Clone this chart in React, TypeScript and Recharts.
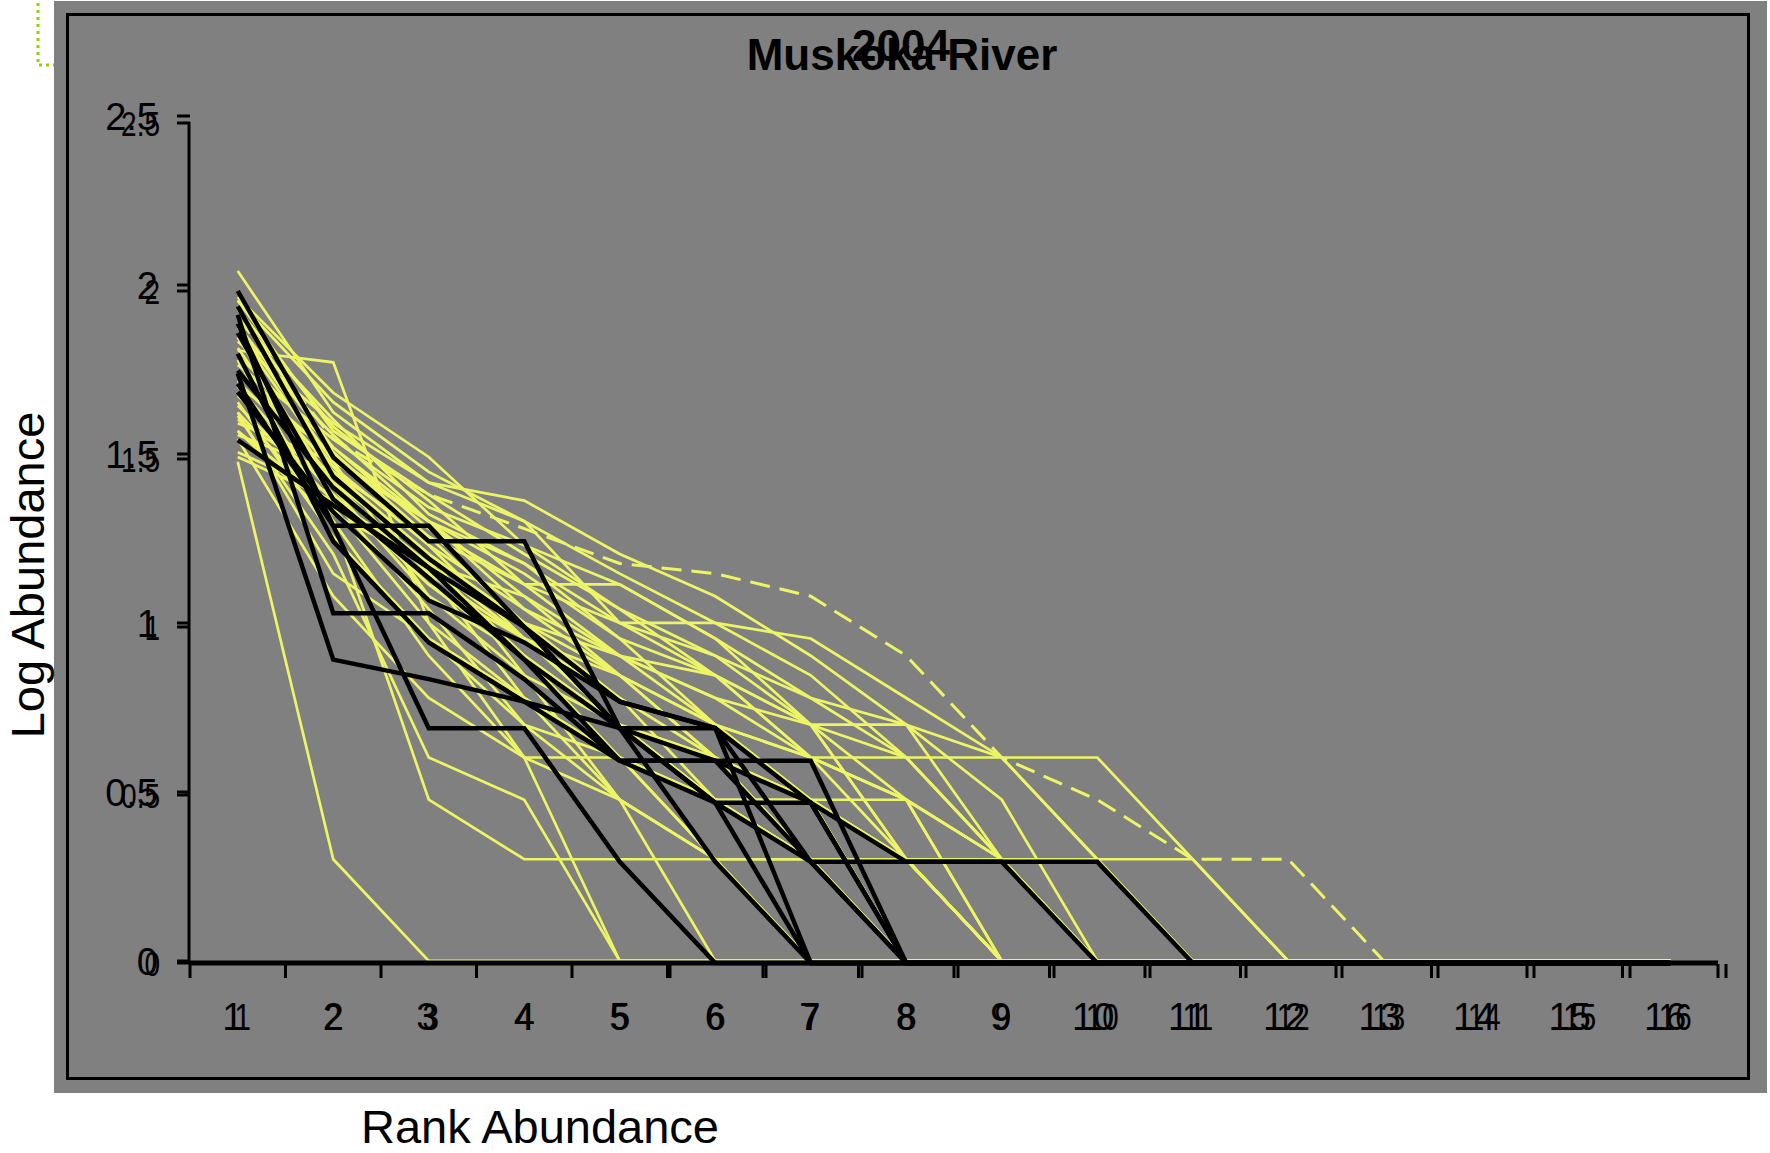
import React from 'react';
import { LineChart, Line, XAxis, YAxis } from 'recharts';

// ---------- data ----------
const ranks = [1, 2, 3, 4, 5, 6, 7, 8, 9, 10, 11, 12, 13, 14, 15, 16];
const rankTickLabels = ['1', '2', '3', '4', '5', '6', '7', '8', '9', '10', '11', '12', '13', '14', '15', '16'];
const rankBoundaries = [0.5, 1.5, 2.5, 3.5, 4.5, 5.5, 6.5, 7.5, 8.5, 9.5, 10.5, 11.5, 12.5, 13.5, 14.5, 15.5, 16.5];
const logTicks = [0, 0.5, 1, 1.5, 2, 2.5];
const logTickLabels = ['0', '0.5', '1', '1.5', '2', '2.5'];

const titleMain = 'Muskoka River';
const titleYear = '2004';
const xAxisTitle = 'Rank Abundance';
const yAxisTitle = 'Log Abundance';

// yellow sites (log abundance by rank)
const yellow01 = [2.041, 1.623, 1.415, 1.362, 1.204, 1.079, 0.903, 0.699, 0.602, 0.301, 0, 0, 0, 0, 0, 0];
const yellow02 = [1.845, 1.556, 1.301, 1.176, 1.0, 0.845, 0.602, 0.602, 0.602, 0.602, 0.301, 0, 0, 0, 0, 0];
const yellow04 = [1.778, 1.301, 0.477, 0.301, 0.301, 0.301, 0.301, 0.301, 0.301, 0.301, 0.301, 0, 0, 0, 0, 0];
const yellow05 = [1.477, 0.301, 0, 0, 0, 0, 0, 0, 0, 0, 0, 0, 0, 0, 0, 0];
const yellow06 = [1.875, 1.477, 1.301, 1.146, 0.954, 0.845, 0.699, 0.699, 0.477, 0, 0, 0, 0, 0, 0, 0];
const yellow07 = [1.813, 1.415, 1.204, 1.0, 0.845, 0.602, 0.477, 0.477, 0.301, 0, 0, 0, 0, 0, 0, 0];
const yellow08 = [1.954, 1.653, 1.447, 1.301, 1.0, 1.0, 0.954, 0.778, 0.602, 0.301, 0, 0, 0, 0, 0, 0];
const yellow09 = [1.806, 1.771, 1.0, 0.778, 0.602, 0.477, 0.301, 0, 0, 0, 0, 0, 0, 0, 0, 0];
const yellow10 = [1.929, 1.58, 1.362, 1.114, 1.114, 0.954, 0.778, 0.602, 0.301, 0, 0, 0, 0, 0, 0, 0];
const yellow11 = [1.699, 1.505, 1.255, 1.114, 0.903, 0.778, 0.602, 0.301, 0, 0, 0, 0, 0, 0, 0, 0];
const yellow12 = [1.74, 1.462, 1.23, 1.041, 0.845, 0.699, 0.477, 0, 0, 0, 0, 0, 0, 0, 0, 0];
const yellow13 = [1.602, 1.415, 1.146, 0.954, 0.778, 0.477, 0.301, 0, 0, 0, 0, 0, 0, 0, 0, 0];
const yellow14 = [1.845, 1.398, 1.079, 0.903, 0.699, 0.602, 0.301, 0, 0, 0, 0, 0, 0, 0, 0, 0];
const yellow15 = [1.653, 1.255, 0.954, 0.778, 0.477, 0.301, 0, 0, 0, 0, 0, 0, 0, 0, 0, 0];
const yellow16 = [1.778, 1.447, 1.204, 0.845, 0.477, 0, 0, 0, 0, 0, 0, 0, 0, 0, 0, 0];
const yellow17 = [1.568, 1.342, 1.0, 0.602, 0, 0, 0, 0, 0, 0, 0, 0, 0, 0, 0, 0];
const yellow18 = [1.613, 1.204, 0.602, 0.477, 0, 0, 0, 0, 0, 0, 0, 0, 0, 0, 0, 0];
const yellow19 = [1.699, 1.38, 1.114, 0.954, 0.699, 0.477, 0.301, 0.301, 0, 0, 0, 0, 0, 0, 0, 0];
const yellow20 = [1.903, 1.602, 1.322, 1.176, 0.954, 0.699, 0.602, 0.477, 0.301, 0, 0, 0, 0, 0, 0, 0];
const yellow21 = [1.74, 1.491, 1.301, 1.079, 0.903, 0.699, 0.477, 0.301, 0, 0, 0, 0, 0, 0, 0, 0];
const yellow22 = [1.623, 1.322, 1.176, 0.954, 0.845, 0.602, 0.301, 0, 0, 0, 0, 0, 0, 0, 0, 0];
const yellow23 = [1.556, 1.447, 1.255, 1.0, 0.778, 0.602, 0.477, 0.301, 0, 0, 0, 0, 0, 0, 0, 0];
const yellow24 = [1.881, 1.519, 1.301, 1.041, 0.903, 0.778, 0.699, 0.602, 0.301, 0, 0, 0, 0, 0, 0, 0];
const yellow25 = [1.954, 1.568, 1.38, 1.204, 1.041, 0.845, 0.699, 0.477, 0, 0, 0, 0, 0, 0, 0, 0];
const yellow26 = [1.672, 1.398, 1.176, 0.903, 0.602, 0.477, 0.477, 0, 0, 0, 0, 0, 0, 0, 0, 0];
const yellow27 = [1.763, 1.544, 1.342, 1.23, 1.041, 0.903, 0.699, 0.301, 0, 0, 0, 0, 0, 0, 0, 0];
const yellow28 = [1.591, 1.477, 1.079, 0.845, 0.699, 0.477, 0.301, 0, 0, 0, 0, 0, 0, 0, 0, 0];
const yellow29 = [1.857, 1.462, 1.146, 0.778, 0.602, 0.301, 0, 0, 0, 0, 0, 0, 0, 0, 0, 0];
const yellow30 = [1.643, 1.362, 1.041, 0.699, 0.477, 0.301, 0.301, 0, 0, 0, 0, 0, 0, 0, 0, 0];
const yellow31 = [1.792, 1.519, 1.279, 1.114, 1.0, 0.903, 0.778, 0.699, 0.301, 0, 0, 0, 0, 0, 0, 0];
const yellow32 = [1.716, 1.431, 1.204, 1.0, 0.903, 0.845, 0.602, 0.477, 0.301, 0, 0, 0, 0, 0, 0, 0];
const yellow33 = [1.505, 1.38, 1.114, 0.903, 0.699, 0.602, 0.477, 0.301, 0, 0, 0, 0, 0, 0, 0, 0];
const yellow34 = [1.833, 1.591, 1.415, 1.301, 1.146, 1.0, 0.845, 0.602, 0.301, 0, 0, 0, 0, 0, 0, 0];
const yellow35 = [1.964, 1.681, 1.491, 1.23, 1.114, 0.954, 0.699, 0.301, 0, 0, 0, 0, 0, 0, 0, 0];
const yellow36 = [1.568, 1.301, 0.903, 0.602, 0.602, 0.301, 0, 0, 0, 0, 0, 0, 0, 0, 0, 0];
const yellow37 = [1.544, 1.079, 0.778, 0.602, 0.477, 0.301, 0, 0, 0, 0, 0, 0, 0, 0, 0, 0];
const yellow38 = [1.623, 1.146, 0.954, 0.699, 0.602, 0.477, 0.301, 0.301, 0, 0, 0, 0, 0, 0, 0, 0];
const yellow39 = [1.929, 1.505, 1.23, 0.954, 0.699, 0.477, 0.477, 0.301, 0.301, 0.301, 0, 0, 0, 0, 0, 0];
const yellow40 = [1.491, 1.362, 1.176, 1.079, 0.845, 0.699, 0.602, 0.477, 0, 0, 0, 0, 0, 0, 0, 0];
// dashed yellow site
const yellowDashed = [1.903, 1.544, 1.38, 1.279, 1.176, 1.146, 1.079, 0.903, 0.602, 0.477, 0.301, 0.301, 0, 0, 0, 0];

// black sites
const black01 = [1.724, 1.301, 1.301, 1.0, 0.699, 0.699, 0.301, 0, 0, 0, 0, 0, 0, 0, 0, 0];
const black02 = [2.0, 1.505, 1.255, 1.255, 0.699, 0.477, 0.477, 0, 0, 0, 0, 0, 0, 0, 0, 0];
const black03 = [1.929, 1.041, 1.041, 0.845, 0.602, 0.602, 0.602, 0, 0, 0, 0, 0, 0, 0, 0, 0];
const black04 = [1.755, 0.903, 0.845, 0.778, 0.699, 0.602, 0.301, 0.301, 0.301, 0.301, 0, 0, 0, 0, 0, 0];
const black05 = [1.903, 1.301, 0.699, 0.699, 0.301, 0, 0, 0, 0, 0, 0, 0, 0, 0, 0, 0];
const black06 = [1.875, 1.38, 1.146, 0.903, 0.699, 0.477, 0, 0, 0, 0, 0, 0, 0, 0, 0, 0];
const black07 = [1.954, 1.447, 1.204, 1.0, 0.778, 0.699, 0.477, 0, 0, 0, 0, 0, 0, 0, 0, 0];
const black08 = [1.699, 1.342, 1.079, 0.954, 0.778, 0.699, 0, 0, 0, 0, 0, 0, 0, 0, 0, 0];
const black09 = [1.556, 1.362, 1.176, 0.903, 0.602, 0.477, 0.301, 0, 0, 0, 0, 0, 0, 0, 0, 0];
const black10 = [1.813, 1.255, 0.954, 0.778, 0.602, 0.602, 0.477, 0.301, 0.301, 0, 0, 0, 0, 0, 0, 0];
const black11 = [1.763, 1.415, 1.176, 1.0, 0.699, 0.301, 0, 0, 0, 0, 0, 0, 0, 0, 0, 0];

const yellowSeries = [
  yellow01, yellow02, yellow04, yellow05, yellow06, yellow07, yellow08, yellow09, yellow10,
  yellow11, yellow12, yellow13, yellow14, yellow15, yellow16, yellow17, yellow18, yellow19, yellow20,
  yellow21, yellow22, yellow23, yellow24, yellow25, yellow26, yellow27, yellow28, yellow29, yellow30,
  yellow31, yellow32, yellow33, yellow34, yellow35, yellow36, yellow37, yellow38, yellow39, yellow40,
];
const blackSeries = [black01, black02, black03, black04, black05, black06, black07, black08, black09, black10, black11];

// table for recharts
const rows = ranks.map((r, i) => {
  const row: Record<string, number> = { rank: r, yd: yellowDashed[i] };
  yellowSeries.forEach((s, k) => { row['y' + k] = s[i]; });
  blackSeries.forEach((s, k) => { row['b' + k] = s[i]; });
  return row;
});

// ---------- style ----------
const FONT = '"Liberation Sans", Arial, sans-serif';
const YELLOW = '#EDF566';
const GRAY = '#808080';
const W = 1770;
const H = 1153;
const PLOT_LEFT = 190;
const PLOT_RIGHT = 1718;
const PLOT_BOTTOM = 963;
const X_LABEL_BASELINE = 1030;
const X_DX_A = [-5, 0, -2, 0, 0, 0, -1, 0, -1, -4, -5, -4, -4, -5, -5, -5];
const X_DX_B = [5, 0, 2, 0, 0, 0, 1, 0, 1, 5, 5, 5, 5, 5, 5, 5];

const XLabelTick = (props: any) => {
  const { x, index } = props;
  const label = rankTickLabels[index];
  return (
    <g>
      <text x={x + X_DX_A[index]} y={X_LABEL_BASELINE} textAnchor="middle" fontSize={38} fontFamily={FONT} fill="#000">
        {label}
      </text>
      <text
        transform={`translate(${x + X_DX_B[index]},${X_LABEL_BASELINE}) scale(0.8,1)`}
        textAnchor="middle"
        fontSize={37}
        fontFamily={FONT}
        fill="#000"
      >
        {label}
      </text>
    </g>
  );
};

const BoundTick = (props: any) => {
  const { x } = props;
  const shift = ((x - PLOT_LEFT) / (PLOT_RIGHT - PLOT_LEFT)) * 8;
  const y = PLOT_BOTTOM + 1;
  return (
    <g>
      <line x1={x} x2={x} y1={y} y2={y + 14} stroke="#000" strokeWidth={3} />
      {shift > 2 && <line x1={x + shift} x2={x + shift} y1={y} y2={y + 14} stroke="#000" strokeWidth={3} />}
    </g>
  );
};

const YTick = (props: any) => {
  const { payload, index } = props;
  const x = PLOT_LEFT;
  const y = props.y;
  const v = Number(payload.value);
  const yB = y;
  const yA = y - 2 - 2 * v;
  const label = logTickLabels[index];
  return (
    <g>
      <line x1={x - 13} x2={x} y1={yA} y2={yA} stroke="#000" strokeWidth={3} />
      <line x1={x - 13} x2={x} y1={yB} y2={yB} stroke="#000" strokeWidth={3} />
      <text x={x - 32} y={yA + 13.6} textAnchor="end" fontSize={38} fontFamily={FONT} fill="#000">
        {label}
      </text>
      <text
        transform={`translate(${x - 30},${yB + 12.5}) scale(0.8,1)`}
        textAnchor="end"
        fontSize={35}
        fontFamily={FONT}
        fill="#000"
      >
        {label}
      </text>
    </g>
  );
};

export default function App() {
  return (
    <div style={{ position: 'absolute', left: 0, top: 0, width: W, height: H, background: '#fff', overflow: 'hidden' }}>
      <div style={{ position: 'absolute', left: 54, top: 1, width: 1713, height: 1092, background: GRAY }} />
      <div
        style={{
          position: 'absolute',
          left: 66,
          top: 13,
          width: 1684,
          height: 1067,
          border: '3px solid #000',
          boxSizing: 'border-box',
        }}
      />
      <div style={{ position: 'absolute', left: 0, top: 0 }}>
        <LineChart width={W} height={H} data={rows} margin={{ top: 123, right: 52, bottom: 130, left: 130 }}>
          <XAxis
            dataKey="rank"
            type="number"
            domain={[0.5, 16.5]}
            ticks={rankBoundaries}
            interval={0}
            tickLine={false}
            tickSize={0}
            tickMargin={0}
            height={20}
            axisLine={{ stroke: '#000', strokeWidth: 5 }}
            tick={<BoundTick />}
          />
          <XAxis
            xAxisId="labels"
            dataKey="rank"
            type="number"
            domain={[0.5, 16.5]}
            ticks={ranks}
            interval={0}
            tickLine={false}
            tickSize={0}
            tickMargin={0}
            height={40}
            axisLine={false}
            tick={<XLabelTick />}
          />
          <YAxis
            yAxisId="B"
            type="number"
            domain={[0, 2.5]}
            ticks={logTicks}
            interval={0}
            width={60}
            tickLine={false}
            tickSize={0}
            tickMargin={0}
            axisLine={false}
            tick={<YTick />}
          />
          <YAxis yAxisId="A" type="number" domain={[-0.006, 2.479]} hide width={0} allowDataOverflow />
          {yellowSeries.map((_, k) => (
            <Line
              key={'y' + k}
              yAxisId="A"
              dataKey={'y' + k}
              stroke={YELLOW}
              strokeWidth={2.7}
              dot={false}
              activeDot={false}
              isAnimationActive={false}
              type="linear"
            />
          ))}
          <Line
            yAxisId="A"
            dataKey="yd"
            stroke={YELLOW}
            strokeWidth={3}
            strokeDasharray="20 10"
            dot={false}
            activeDot={false}
            isAnimationActive={false}
            type="linear"
          />
          {blackSeries.map((_, k) => (
            <Line
              key={'b' + k}
              yAxisId="B"
              dataKey={'b' + k}
              stroke="#000"
              strokeWidth={4.5}
              dot={false}
              activeDot={false}
              isAnimationActive={false}
              type="linear"
            />
          ))}
        </LineChart>
      </div>
      <svg width={W} height={H} style={{ position: 'absolute', left: 0, top: 0, pointerEvents: 'none' }}>
        <line x1={PLOT_LEFT - 1} x2={PLOT_LEFT - 1} y1={122} y2={PLOT_BOTTOM} stroke="#000" strokeWidth={3} />
        <polyline points="38,3 38,65 54,65" fill="none" stroke="#9ACD00" strokeWidth={3} strokeDasharray="3 4" />
        <text x={902} y={70} textAnchor="middle" fontSize={44} fontWeight="bold" fontFamily={FONT} fill="#000">
          {titleMain}
        </text>
        <text x={901} y={61} textAnchor="middle" fontSize={44} fontWeight="bold" fontFamily={FONT} fill="#000">
          {titleYear}
        </text>
        <text transform="translate(44,575) rotate(-90)" textAnchor="middle" fontSize={47} fontFamily={FONT} fill="#000">
          {yAxisTitle}
        </text>
        <text x={361} y={1143} fontSize={47} fontFamily={FONT} fill="#000">
          {xAxisTitle}
        </text>
      </svg>
    </div>
  );
}
